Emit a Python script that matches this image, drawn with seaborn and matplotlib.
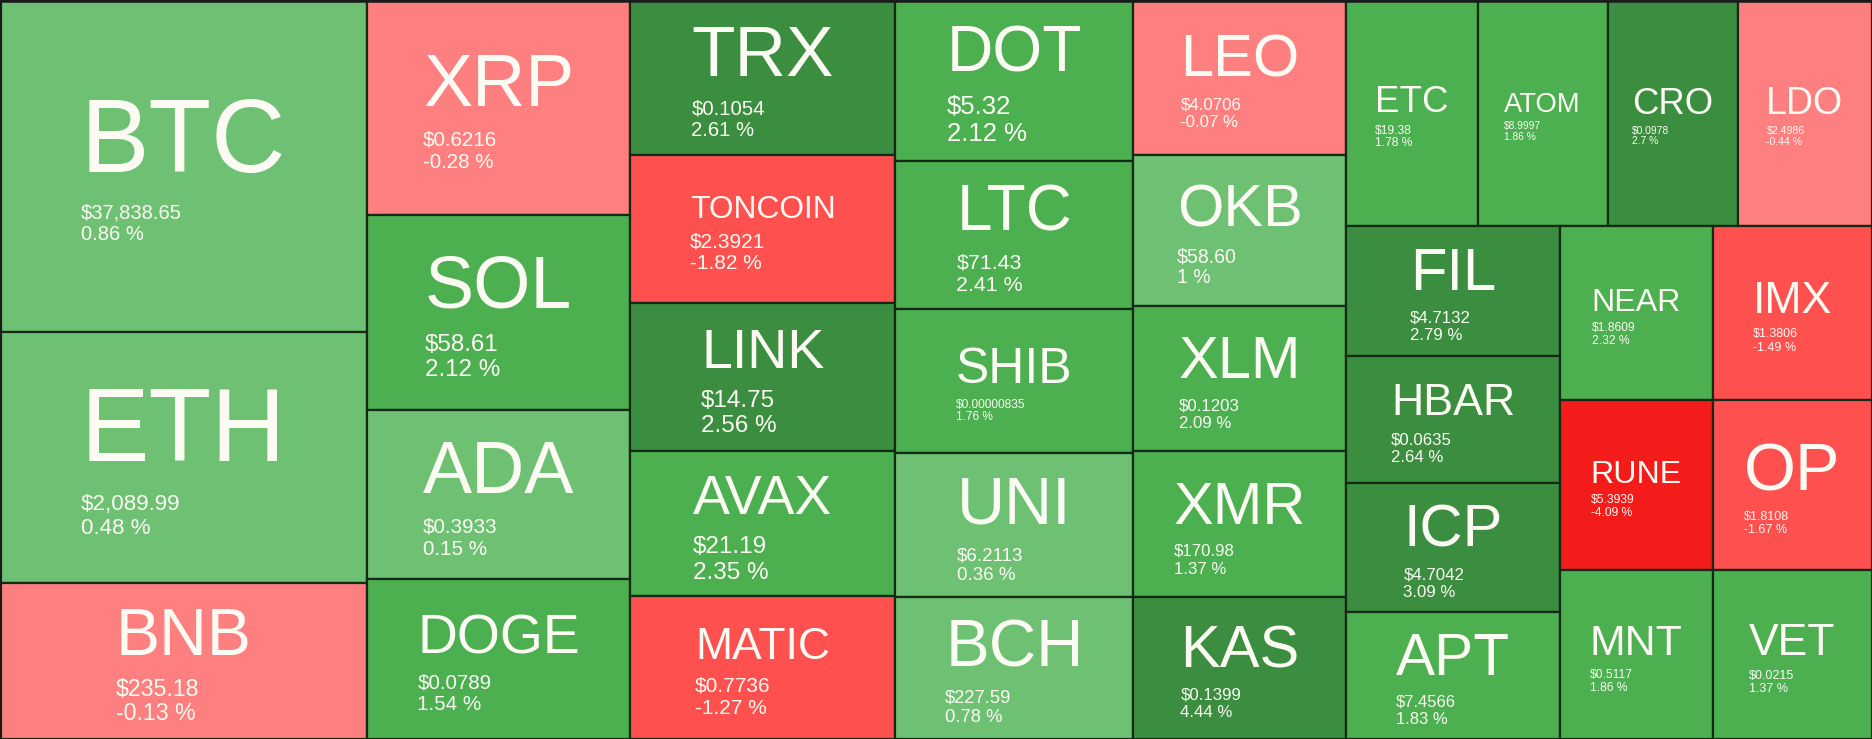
import matplotlib
matplotlib.use('Agg')
import matplotlib.pyplot as plt
from matplotlib.patches import Rectangle
import seaborn as sns

# coin tickers, last price, 24h change (%) and relative market cap (tile area)
tickers = ['BTC', 'ETH', 'BNB', 'XRP', 'SOL', 'ADA', 'DOGE', 'TRX', 'TONCOIN', 'LINK', 'AVAX', 'MATIC',
           'DOT', 'LTC', 'SHIB', 'UNI', 'BCH', 'LEO', 'OKB', 'XLM', 'XMR', 'KAS',
           'ETC', 'ATOM', 'CRO', 'LDO', 'FIL', 'HBAR', 'ICP', 'APT',
           'NEAR', 'IMX', 'RUNE', 'OP', 'MNT', 'VET']
prices = ['$37,838.65', '$2,089.99', '$235.18', '$0.6216', '$58.61', '$0.3933', '$0.0789',
          '$0.1054', '$2.3921', '$14.75', '$21.19', '$0.7736',
          '$5.32', '$71.43', '$0.00000835', '$6.2113', '$227.59',
          '$4.0706', '$58.60', '$0.1203', '$170.98', '$0.1399',
          '$19.38', '$8.9997', '$0.0978', '$2.4986', '$4.7132', '$0.0635', '$4.7042', '$7.4566',
          '$1.8609', '$1.3806', '$5.3939', '$1.8108', '$0.5117', '$0.0215']
changes = [0.86, 0.48, -0.13, -0.28, 2.12, 0.15, 1.54,
           2.61, -1.82, 2.56, 2.35, -1.27,
           2.12, 2.41, 1.76, 0.36, 0.78,
           -0.07, 1, 2.09, 1.37, 4.44,
           1.78, 1.86, 2.7, -0.44, 2.79, 2.64, 3.09, 1.83,
           2.32, -1.49, -4.09, -1.67, 1.86, 1.37]
weights = [121.8, 92.1, 57.3, 56.5, 51.3, 44.4, 42.1,
           41.1, 39.2, 39.2, 38.4, 37.9,
           38.3, 35.2, 34.3, 34.3, 33.8,
           33.0, 32.2, 30.9, 31.1, 30.2,
           29.6, 29.4, 29.4, 30.3, 27.7, 27.1, 27.5, 27.1,
           26.6, 27.7, 26.0, 27.0, 25.9, 26.9]

# how the tiles are grouped
left_columns = [['BTC', 'ETH', 'BNB'],
                ['XRP', 'SOL', 'ADA', 'DOGE'],
                ['TRX', 'TONCOIN', 'LINK', 'AVAX', 'MATIC'],
                ['DOT', 'LTC', 'SHIB', 'UNI', 'BCH'],
                ['LEO', 'OKB', 'XLM', 'XMR', 'KAS']]
right_top = ['ETC', 'ATOM', 'CRO', 'LDO']
right_stack = ['FIL', 'HBAR', 'ICP', 'APT']
right_grid = [['NEAR', 'IMX'], ['RUNE', 'OP'], ['MNT', 'VET']]

tree = ('h', [('v', c) for c in left_columns] +
        [('v', [('h', right_top),
                ('h', [('v', right_stack), ('v', [('h', r) for r in right_grid])])])])

wmap = dict(zip(tickers, weights))


def node_weight(node):
    if isinstance(node, str):
        return wmap[node]
    return sum(node_weight(k) for k in node[1])


def place(node, x, y, w, h, out):
    if isinstance(node, str):
        out[node] = (x, y, w, h)
        return
    direction, kids = node
    total = node_weight(node)
    for k in kids:
        f = node_weight(k) / total
        if direction == 'h':
            place(k, x, y, w * f, h, out)
            x += w * f
        else:
            place(k, x, y, w, h * f, out)
            y += h * f


def tile_color(c):
    if c > 2.5:
        return '#3b8e3f'
    if c > 1.0:
        return '#4caf50'
    if c >= 0:
        return '#6ec173'
    if c > -1.0:
        return '#fe7f7f'
    if c > -2.0:
        return '#ff5050'
    return '#f41b1b'


def block_height(big, small):
    return 0.966 * big + 2.096 * small


rects = {}
place(tree, 0.0, 0.0, 1.0, 1.0, rects)

sns.set_theme(style='white')
plt.rcParams['font.family'] = ['Liberation Sans', 'DejaVu Sans']

W_PX, H_PX = 1872, 739
fig = plt.figure(figsize=(W_PX / 100, H_PX / 100), dpi=100)
ax = fig.add_axes([0, 0, 1, 1])
ax.set_xlim(0, 1)
ax.set_ylim(1, 0)
ax.axis('off')
renderer = fig.canvas.get_renderer()
text_color = '#fbfbf4'

for t, p, c in zip(tickers, prices, changes):
    x, y, w, h = rects[t]
    ax.add_patch(Rectangle((x, y), w, h, facecolor=tile_color(c),
                           edgecolor='#142a16', linewidth=1.6))
    wp, hp = w * W_PX, h * H_PX
    big0 = 0.84 * wp / len(t)          # ticker font size in px
    small0 = 0.55 * wp / len(p)        # price / change font size in px
    # shrink the label block when it is too tall for the tile
    f = 1.0
    if block_height(big0, small0) > 0.72 * hp:
        lo, hi = 0.05, 1.0
        for _ in range(40):
            mid = (lo + hi) / 2
            if block_height(big0 * mid, small0 * mid ** 0.5) > 0.72 * hp:
                hi = mid
            else:
                lo = mid
        f = lo
    big, small = big0 * f, small0 * f ** 0.5
    gap = 0.25 * big + 0.33 * small
    block = 0.716 * big + gap + 0.716 * small + 1.05 * small
    top = y * H_PX + (hp - block) / 2 + 3
    base_t = top + 0.716 * big
    base_p = base_t + gap + 0.716 * small
    base_c = base_p + 1.05 * small

    label = ax.text(x + w / 2, base_t / H_PX, t, ha='center', va='baseline',
                    fontsize=big * 0.72, color=text_color)
    left = label.get_window_extent(renderer).x0 / W_PX
    ax.text(left, base_p / H_PX, p, ha='left', va='baseline',
            fontsize=small * 0.72, color=text_color)
    ax.text(left, base_c / H_PX, f'{c:g} %', ha='left', va='baseline',
            fontsize=small * 0.72, color=text_color)

# dark frame along the top and left like the source widget
ax.plot([0, 1], [0, 0], color='#1b1b1b', linewidth=4, clip_on=True)
ax.plot([0, 0], [0, 1], color='#1b1b1b', linewidth=3, clip_on=True)

fig.savefig('out.png', dpi=100)
